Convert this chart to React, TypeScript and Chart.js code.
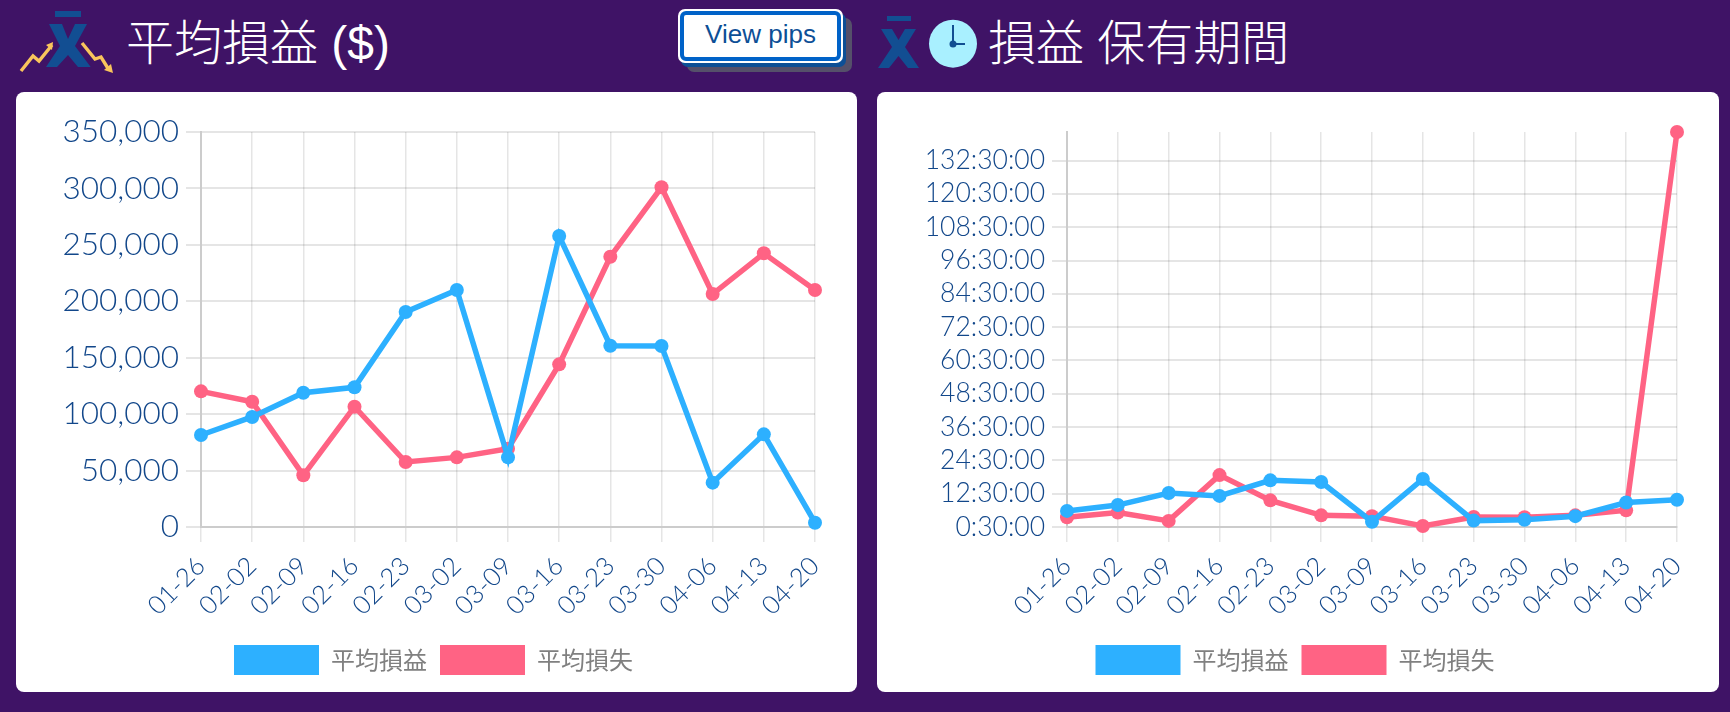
import React, { useEffect, useRef } from "react";
import { Chart, registerables } from "chart.js";

Chart.register(...registerables);

const categories = ["01-26","02-02","02-09","02-16","02-23","03-02","03-09","03-16","03-23","03-30","04-06","04-13","04-20"];
const seriesNames = ["平均損益", "平均損失"];

const profitValues = [81500,97500,119000,123800,190500,210000,61700,257800,160600,160400,39300,82100,3800];
const lossValues = [120200,111000,45800,106600,57600,61700,69400,144100,239500,301000,206400,242500,210000];

const profitHours = [6.3,8.4,12.75,11.7,17.3,16.7,2.4,17.8,2.8,3.1,4.4,9.3,10.3];
const lossHours = [4.0,5.7,2.7,19.2,10.1,4.7,4.4,0.86,4.1,4.0,4.7,6.5,142.8];

const holdTickHours = [0.5,12.5,24.5,36.5,48.5,60.5,72.5,84.5,96.5,108.5,120.5,132.5];
const holdTickLabels = ["0:30:00","12:30:00","24:30:00","36:30:00","48:30:00","60:30:00","72:30:00","84:30:00","96:30:00","108:30:00","120:30:00","132:30:00"];
const moneyTicks = [0,50000,100000,150000,200000,250000,300000,350000];

const BLUE = "#2db0ff";
const PINK = "#ff6384";
const TICK = "#12478a";
const TICK_FONT = "Lato";

function makeChart(canvas: HTMLCanvasElement, a: number[], b: number[], kind: "money" | "hold") {
  const ds = (label: string, data: number[], color: string) => ({
    label, data, borderColor: color, backgroundColor: color, borderWidth: 5.5,
    pointRadius: 7, pointBackgroundColor: color, pointBorderColor: color, pointBorderWidth: 0,
    tension: 0, fill: false, clip: false as const,
  });
  return new Chart(canvas, {
    type: "line",
    data: { labels: categories, datasets: [ds(seriesNames[0], a, BLUE), ds(seriesNames[1], b, PINK)] },
    options: {
      animation: false, responsive: false,
      layout: { padding: { top: 40, right: 42, left: 36, bottom: 7 } },
      plugins: {
        tooltip: { enabled: false },
        legend: {
          position: "bottom",
          labels: {
            boxWidth: 85, boxHeight: 30, padding: 13, color: "#808080",
            font: { family: "'Noto Sans CJK JP'", size: 24 },
            generateLabels: (chart: any) => chart.data.datasets.map((d: any, i: number) => ({
              text: d.label, fillStyle: d.backgroundColor, strokeStyle: d.backgroundColor, lineWidth: 0, datasetIndex: i, fontColor: "#808080",
            })),
          },
        },
      },
      scales: {
        x: {
          afterFit: (s: any) => { s.height = 105; },
          grid: { color: "rgba(0,0,0,0.1)", lineWidth: 1.5, tickLength: 15, offset: false },
          border: { color: "#ccc", width: 2 },
          ticks: { color: TICK, font: { family: TICK_FONT, size: 25.5, weight: "300" }, minRotation: 45, maxRotation: 45, padding: 9, autoSkip: false },
        },
        y: kind === "money"
          ? {
              min: 0, max: 350000,
              afterFit: (s: any) => { s.width = 149; },
              afterBuildTicks: (s: any) => { s.ticks = moneyTicks.map((value) => ({ value })); },
              grid: { color: "rgba(0,0,0,0.1)", lineWidth: 2, tickLength: 15 },
              border: { color: "#ccc", width: 2 },
              ticks: { color: TICK, font: { family: TICK_FONT, size: 31.5, weight: "300" }, padding: 7, callback: (v: any) => Number(v).toLocaleString("en-US") },
            }
          : {
              min: 0.5, max: 142.8,
              afterFit: (s: any) => { s.width = 154; },
              afterBuildTicks: (s: any) => { s.ticks = holdTickHours.map((value) => ({ value })); },
              grid: { color: "rgba(0,0,0,0.1)", lineWidth: 2, tickLength: 15 },
              border: { color: "#ccc", width: 2 },
              ticks: { color: TICK, font: { family: TICK_FONT, size: 26.5, weight: "300" }, padding: 7, autoSkip: false,
                callback: (v: any) => holdTickLabels[holdTickHours.indexOf(Number(v))] },
            },
      },
    } as any,
  });
}

function ChartCard({ a, b, kind, left, width }: { a: number[]; b: number[]; kind: "money" | "hold"; left: number; width: number }) {
  const ref = useRef<HTMLCanvasElement>(null);
  useEffect(() => {
    const c = makeChart(ref.current!, a, b, kind);
    return () => c.destroy();
  }, []);
  return (
    <div style={{ position: "absolute", left, top: 92, width, height: 600, background: "#fff", borderRadius: 8, overflow: "hidden" }}>
      <canvas ref={ref} width={width} height={600} style={{ display: "block" }} />
    </div>
  );
}

const titleStyle: React.CSSProperties = {
  position: "absolute", top: 8, margin: 0, color: "#fff", fontSize: 48, lineHeight: "72px", fontWeight: 300,
  fontFamily: "'Liberation Sans', 'Noto Sans CJK JP', sans-serif", whiteSpace: "nowrap",
};

export default function App() {
  useEffect(() => { document.body.style.margin = "0"; }, []);
  return (
    <div style={{ position: "fixed", left: 0, top: 0, width: 1730, height: 712, background: "#3f1366", overflow: "hidden" }}>
      <svg width={1730} height={92} style={{ position: "absolute", left: 0, top: 0 }}>
        <rect x={55} y={11} width={26} height={6} fill="#124e92" />
        <polygon points="49,24 62,24 68,39 75,24 87,24 75,46 90.7,67 78,67 68,55 57,67 46,67 60,46" fill="#124e92" />
        <polyline points="21,71 33,56 39,61 52,45" fill="none" stroke="#f9c55c" strokeWidth={3.4} />
        <polygon points="53,42 46,45 52,50" fill="#f9c55c" />
        <polyline points="82,43 95,59 101,57 109,70" fill="none" stroke="#f9c55c" strokeWidth={3.4} />
        <polygon points="113,73 104,70 111,64" fill="#f9c55c" />
        <rect x={887} y={16} width={24} height={5} fill="#124e92" />
        <polygon points="881,29 892,29 898.5,40 905,29 916,29 905,47 919,68 908,68 898.5,56 889,68 878,68 892,47" fill="#124e92" />
        <circle cx={953} cy={43.7} r={24} fill="#a9f0ff" />
        <line x1={953} y1={25} x2={953} y2={44} stroke="#124e92" strokeWidth={2} />
        <line x1={953} y1={44} x2={965} y2={44} stroke="#124e92" strokeWidth={2} />
        <circle cx={953} cy={44} r={3.5} fill="#124e92" />
      </svg>
      <h1 style={{ ...titleStyle, left: 126 }}>平均損益 ($)</h1>
      <h1 style={{ ...titleStyle, left: 988 }}>損益 保有期間</h1>
      <div style={{
        position: "absolute", left: 678, top: 9, width: 165, height: 54, boxSizing: "border-box",
        background: "#fff", border: "2px solid #fff", borderRadius: 7,
        boxShadow: "3px 4px 0 #0d4f96, 9px 9px 0 #55506a",
      }}>
        <div style={{
          width: "100%", height: "100%", boxSizing: "border-box", border: "4px solid #0062c8", borderRadius: 6,
          color: "#0d4f96", fontFamily: "'Liberation Sans', sans-serif", fontSize: 26,
          display: "flex", alignItems: "center", justifyContent: "center", paddingBottom: 3,
        }}>View pips</div>
      </div>
      <ChartCard a={profitValues} b={lossValues} kind="money" left={16} width={841} />
      <ChartCard a={profitHours} b={lossHours} kind="hold" left={877} width={842} />
    </div>
  );
}
